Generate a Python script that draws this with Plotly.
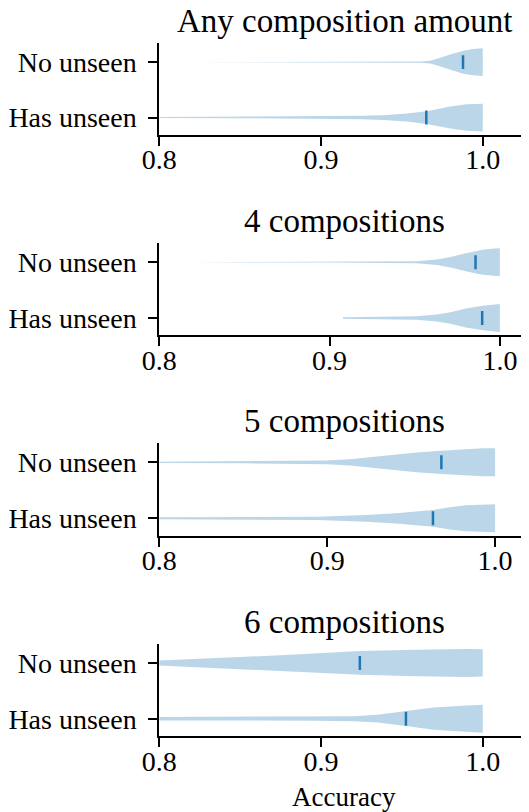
import plotly.graph_objects as go

# ---- data ----
panel_titles = ["Any composition amount", "4 compositions", "5 compositions", "6 compositions"]
group_labels = ["Has unseen", "No unseen"]
x_ticks = [0.8, 0.9, 1.0]
x_tick_labels = ["0.8", "0.9", "1.0"]
x_max = [1.0286, 1.0171, 1.0202, 1.0286]

# density profiles (accuracy grid, relative half-width) per panel
p1_no_acc = [0.818, 0.86, 0.90, 0.94, 0.962, 0.9675, 0.9716, 0.9757, 0.9798, 0.9839, 0.988, 0.994, 1.0]
p1_no_w = [0.0, 0.01, 0.02, 0.03, 0.05, 0.10, 0.22, 0.39, 0.56, 0.70, 0.83, 0.95, 1.0]
p1_has_acc = [0.78, 0.80, 0.85, 0.90, 0.925, 0.9385, 0.953, 0.9654, 0.9736, 0.98, 0.99, 1.0]
p1_has_w = [0.02, 0.03, 0.05, 0.08, 0.12, 0.17, 0.29, 0.46, 0.66, 0.80, 0.95, 1.0]

p2_no_acc = [0.82, 0.86, 0.90, 0.93, 0.951, 0.963, 0.971, 0.98, 0.986, 0.99, 0.995, 1.0]
p2_no_w = [0.0, 0.01, 0.02, 0.03, 0.07, 0.20, 0.37, 0.65, 0.80, 0.90, 0.97, 1.0]
p2_has_acc = [0.9078, 0.93, 0.951, 0.963, 0.971, 0.98, 0.99, 1.0]
p2_has_w = [0.05, 0.07, 0.12, 0.25, 0.42, 0.68, 0.88, 1.0]

p3_no_acc = [0.78, 0.80, 0.85, 0.88, 0.8996, 0.9135, 0.9234, 0.9333, 0.943, 0.9531, 0.968, 0.9828, 0.9927, 1.0]
p3_no_w = [0.03, 0.04, 0.07, 0.09, 0.13, 0.22, 0.34, 0.46, 0.59, 0.71, 0.83, 0.95, 1.0, 1.0]
p3_has_acc = [0.78, 0.80, 0.8937, 0.9234, 0.943, 0.963, 0.9729, 0.9828, 1.0]
p3_has_w = [0.06, 0.07, 0.12, 0.24, 0.39, 0.60, 0.80, 0.93, 1.0]

p4_no_acc = [0.78, 0.80, 0.825, 0.85, 0.875, 0.8973, 0.9241, 0.9592, 0.975, 0.99, 1.0]
p4_no_w = [0.07, 0.16, 0.29, 0.42, 0.56, 0.70, 0.85, 0.95, 1.0, 1.0, 0.98]
p4_has_acc = [0.78, 0.80, 0.85, 0.897, 0.92, 0.935, 0.9525, 0.9695, 0.99, 1.0]
p4_has_w = [0.12, 0.13, 0.13, 0.14, 0.18, 0.28, 0.52, 0.80, 0.95, 1.0]

profiles = [
    [(p1_has_acc, p1_has_w), (p1_no_acc, p1_no_w)],
    [(p2_has_acc, p2_has_w), (p2_no_acc, p2_no_w)],
    [(p3_has_acc, p3_has_w), (p3_no_acc, p3_no_w)],
    [(p4_has_acc, p4_has_w), (p4_no_acc, p4_no_w)],
]
# medians: [Has unseen, No unseen]
medians = [
    [0.9651, 0.9878],
    [0.9896, 0.9857],
    [0.963, 0.968],
    [0.9525, 0.924],
]

# ---- styling ----
OFF = 8                      # page offset of the figure inside the window
W, H = 529 - OFF, 812 - OFF
FONT = "Liberation Serif"
FILL = "rgba(31,119,180,0.3)"
MED = "#1f77b4"
HALF = 0.25
MED_HALF = 0.125
plot_px = [(43.3, 134.7), (243.3, 335.3), (443.3, 535.7), (644.0, 736.0)]  # window px
x_left_px = 159.3


def fx(px):
    return (px - OFF) / W


def fy(px):
    return 1 - (px - OFF) / H


fig = go.Figure()
for i in range(4):
    xa = "x" if i == 0 else f"x{i+1}"
    ya = "y" if i == 0 else f"y{i+1}"
    for pos in range(2):
        acc, w = profiles[i][pos]
        xs = list(acc) + list(acc)[::-1]
        ys = [pos + HALF * v for v in w] + [pos - HALF * v for v in w][::-1]
        fig.add_trace(go.Scatter(x=xs, y=ys, mode="lines", fill="toself",
                                 fillcolor=FILL, line=dict(width=0, color=FILL),
                                 hoverinfo="skip", showlegend=False,
                                 xaxis=xa, yaxis=ya))
        m = medians[i][pos]
        fig.add_trace(go.Scatter(x=[m, m], y=[pos - MED_HALF, pos + MED_HALF],
                                 mode="lines", line=dict(color=MED, width=2.5),
                                 hoverinfo="skip", showlegend=False,
                                 xaxis=xa, yaxis=ya))

layout = dict(width=W, height=H, margin=dict(l=0, r=0, t=0, b=0, pad=0),
              autosize=False,
              plot_bgcolor="white", paper_bgcolor="white",
              font=dict(family=FONT, size=28, color="black"), annotations=[])
for i in range(4):
    top, bot = plot_px[i]
    xk = "xaxis" if i == 0 else f"xaxis{i+1}"
    yk = "yaxis" if i == 0 else f"yaxis{i+1}"
    layout[xk] = dict(domain=[fx(x_left_px), 1], range=[0.8, x_max[i]],
                      anchor="y" if i == 0 else f"y{i+1}",
                      tickvals=x_ticks, ticktext=x_tick_labels,
                      showline=True, linecolor="black", linewidth=2,
                      ticks="outside", ticklen=9, tickwidth=2, tickcolor="black",
                      showgrid=False, zeroline=False, fixedrange=True,
                      automargin=False, ticklabelstandoff=-10,
                      tickfont=dict(family=FONT, size=28))
    layout[yk] = dict(domain=[fy(bot), fy(top)], range=[-0.31, 1.34],
                      anchor="x" if i == 0 else f"x{i+1}",
                      tickvals=[0, 1], ticktext=group_labels,
                      showline=True, linecolor="black", linewidth=2,
                      ticks="outside", ticklen=9, tickwidth=2, tickcolor="black",
                      showgrid=False, zeroline=False, fixedrange=True,
                      automargin=False, ticklabelstandoff=6,
                      tickfont=dict(family=FONT, size=28))
    layout["annotations"].append(dict(
        text=panel_titles[i], xref="paper", yref="paper",
        x=(fx(x_left_px) + 1) / 2, y=fy(top - 2),
        xanchor="center", yanchor="bottom", showarrow=False,
        font=dict(family=FONT, size=33, color="black")))

layout["annotations"].append(dict(
    text="Accuracy", xref="paper", yref="paper",
    x=(fx(x_left_px) + 1) / 2, y=fy(797),
    xanchor="center", yanchor="middle", showarrow=False,
    font=dict(family=FONT, size=27, color="black")))

fig.update_layout(**layout)
fig.write_html("out.html")
